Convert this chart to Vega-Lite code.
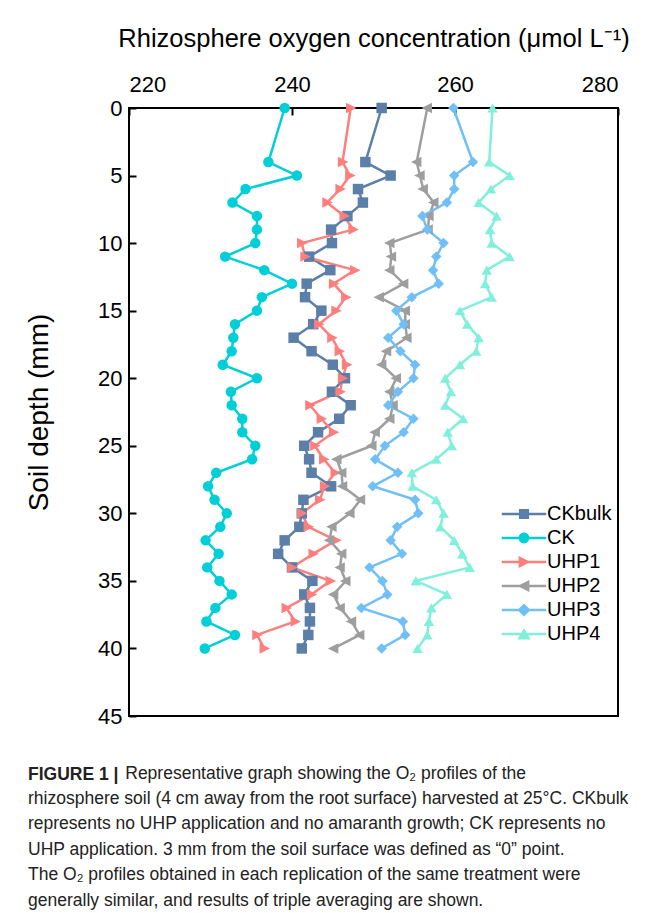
{
  "$schema": "https://vega.github.io/schema/vega-lite/v6.json",
  "autosize": {"type": "none"},
  "width": 489,
  "height": 608,
  "padding": {"left": 129, "top": 108, "right": 37, "bottom": 197},
  "background": "white",
  "config": {
    "view": {"stroke": "black", "strokeWidth": 2},
    "font": "Liberation Sans"
  },
  "title": {
    "text": "FIGURE 1 |",
    "subtitle": [
      "\u200b\u00a0\u00a0\u00a0\u00a0\u00a0\u00a0\u00a0\u00a0\u00a0\u00a0\u00a0\u00a0\u00a0\u00a0\u00a0\u00a0\u00a0\u00a0\u00a0\u00a0Representative graph showing the O\u2082 profiles of the",
      "rhizosphere soil (4 cm away from the root surface) harvested at 25\u00b0C. CKbulk",
      "represents no UHP application and no amaranth growth; CK represents no",
      "UHP application. 3 mm from the soil surface was defined as \u201c0\u201d point.",
      "The O\u2082 profiles obtained in each replication of the same treatment were",
      "generally similar, and results of triple averaging are shown."
    ],
    "orient": "bottom",
    "anchor": "start",
    "frame": "group",
    "dx": -101,
    "offset": 39,
    "font": "Liberation Sans",
    "fontSize": 17.5,
    "fontWeight": "bold",
    "color": "#222222",
    "subtitleFont": "Liberation Sans",
    "subtitleFontSize": 17.5,
    "subtitleColor": "#222222",
    "subtitleLineHeight": 25.4,
    "subtitlePadding": -19
  },
  "data": {
    "values": [
      {"series":"CK","depth":0,"o2":239.1},{"series":"CK","depth":4,"o2":237.1},{"series":"CK","depth":5,"o2":240.6},{"series":"CK","depth":6,"o2":234.3},{"series":"CK","depth":7,"o2":232.7},{"series":"CK","depth":8,"o2":235.7},{"series":"CK","depth":9,"o2":235.7},{"series":"CK","depth":10,"o2":235.5},{"series":"CK","depth":11,"o2":231.8},{"series":"CK","depth":12,"o2":236.6},{"series":"CK","depth":13,"o2":240.0},{"series":"CK","depth":14,"o2":236.3},{"series":"CK","depth":15,"o2":235.7},{"series":"CK","depth":16,"o2":233.0},{"series":"CK","depth":17,"o2":232.8},{"series":"CK","depth":18,"o2":232.6},{"series":"CK","depth":19,"o2":231.5},{"series":"CK","depth":20,"o2":235.7},{"series":"CK","depth":21,"o2":232.5},{"series":"CK","depth":22,"o2":232.6},{"series":"CK","depth":23,"o2":233.9},{"series":"CK","depth":24,"o2":233.9},{"series":"CK","depth":25,"o2":235.5},{"series":"CK","depth":26,"o2":235.1},{"series":"CK","depth":27,"o2":230.7},{"series":"CK","depth":28,"o2":229.7},{"series":"CK","depth":29,"o2":230.5},{"series":"CK","depth":30,"o2":232.0},{"series":"CK","depth":31,"o2":231.2},{"series":"CK","depth":32,"o2":229.4},{"series":"CK","depth":33,"o2":231.0},{"series":"CK","depth":34,"o2":229.6},{"series":"CK","depth":35,"o2":231.1},{"series":"CK","depth":36,"o2":232.6},{"series":"CK","depth":37,"o2":230.6},{"series":"CK","depth":38,"o2":229.5},{"series":"CK","depth":39,"o2":233.0},{"series":"CK","depth":40,"o2":229.3},
      {"series":"CKbulk","depth":0,"o2":251.0},{"series":"CKbulk","depth":4,"o2":249.0},{"series":"CKbulk","depth":5,"o2":252.1},{"series":"CKbulk","depth":6,"o2":248.1},{"series":"CKbulk","depth":7,"o2":248.7},{"series":"CKbulk","depth":8,"o2":246.8},{"series":"CKbulk","depth":9,"o2":244.8},{"series":"CKbulk","depth":10,"o2":244.9},{"series":"CKbulk","depth":11,"o2":242.1},{"series":"CKbulk","depth":12,"o2":244.7},{"series":"CKbulk","depth":13,"o2":241.8},{"series":"CKbulk","depth":14,"o2":241.6},{"series":"CKbulk","depth":15,"o2":243.6},{"series":"CKbulk","depth":16,"o2":242.6},{"series":"CKbulk","depth":17,"o2":240.2},{"series":"CKbulk","depth":18,"o2":242.4},{"series":"CKbulk","depth":19,"o2":245.0},{"series":"CKbulk","depth":20,"o2":246.5},{"series":"CKbulk","depth":21,"o2":244.9},{"series":"CKbulk","depth":22,"o2":247.2},{"series":"CKbulk","depth":23,"o2":245.8},{"series":"CKbulk","depth":24,"o2":243.2},{"series":"CKbulk","depth":25,"o2":241.5},{"series":"CKbulk","depth":26,"o2":242.1},{"series":"CKbulk","depth":27,"o2":242.4},{"series":"CKbulk","depth":28,"o2":244.8},{"series":"CKbulk","depth":29,"o2":241.4},{"series":"CKbulk","depth":30,"o2":241.2},{"series":"CKbulk","depth":31,"o2":240.9},{"series":"CKbulk","depth":32,"o2":239.1},{"series":"CKbulk","depth":33,"o2":238.3},{"series":"CKbulk","depth":34,"o2":240.0},{"series":"CKbulk","depth":35,"o2":242.5},{"series":"CKbulk","depth":36,"o2":241.5},{"series":"CKbulk","depth":37,"o2":242.2},{"series":"CKbulk","depth":38,"o2":242.2},{"series":"CKbulk","depth":39,"o2":242.0},{"series":"CKbulk","depth":40,"o2":241.2},
      {"series":"UHP1","depth":0,"o2":247.2},{"series":"UHP1","depth":4,"o2":246.2},{"series":"UHP1","depth":5,"o2":247.1},{"series":"UHP1","depth":6,"o2":245.9},{"series":"UHP1","depth":7,"o2":244.3},{"series":"UHP1","depth":8,"o2":246.4},{"series":"UHP1","depth":9,"o2":247.5},{"series":"UHP1","depth":10,"o2":241.2},{"series":"UHP1","depth":11,"o2":241.6},{"series":"UHP1","depth":12,"o2":247.7},{"series":"UHP1","depth":13,"o2":245.1},{"series":"UHP1","depth":14,"o2":246.6},{"series":"UHP1","depth":15,"o2":245.4},{"series":"UHP1","depth":16,"o2":243.3},{"series":"UHP1","depth":17,"o2":244.9},{"series":"UHP1","depth":18,"o2":245.8},{"series":"UHP1","depth":19,"o2":246.7},{"series":"UHP1","depth":20,"o2":246.2},{"series":"UHP1","depth":21,"o2":245.9},{"series":"UHP1","depth":22,"o2":242.2},{"series":"UHP1","depth":23,"o2":243.6},{"series":"UHP1","depth":24,"o2":245.1},{"series":"UHP1","depth":25,"o2":242.8},{"series":"UHP1","depth":26,"o2":243.9},{"series":"UHP1","depth":27,"o2":245.3},{"series":"UHP1","depth":28,"o2":244.0},{"series":"UHP1","depth":29,"o2":243.4},{"series":"UHP1","depth":30,"o2":241.2},{"series":"UHP1","depth":31,"o2":242.0},{"series":"UHP1","depth":32,"o2":245.4},{"series":"UHP1","depth":33,"o2":242.6},{"series":"UHP1","depth":34,"o2":240.0},{"series":"UHP1","depth":35,"o2":244.7},{"series":"UHP1","depth":36,"o2":242.4},{"series":"UHP1","depth":37,"o2":239.3},{"series":"UHP1","depth":38,"o2":240.4},{"series":"UHP1","depth":39,"o2":235.7},{"series":"UHP1","depth":40,"o2":236.6},
      {"series":"UHP2","depth":0,"o2":256.6},{"series":"UHP2","depth":4,"o2":255.3},{"series":"UHP2","depth":5,"o2":255.7},{"series":"UHP2","depth":6,"o2":256.1},{"series":"UHP2","depth":7,"o2":257.4},{"series":"UHP2","depth":8,"o2":256.8},{"series":"UHP2","depth":9,"o2":256.7},{"series":"UHP2","depth":10,"o2":252.0},{"series":"UHP2","depth":11,"o2":252.2},{"series":"UHP2","depth":12,"o2":252.0},{"series":"UHP2","depth":13,"o2":253.7},{"series":"UHP2","depth":14,"o2":250.7},{"series":"UHP2","depth":15,"o2":253.9},{"series":"UHP2","depth":16,"o2":253.9},{"series":"UHP2","depth":17,"o2":254.1},{"series":"UHP2","depth":18,"o2":251.6},{"series":"UHP2","depth":19,"o2":251.0},{"series":"UHP2","depth":20,"o2":252.8},{"series":"UHP2","depth":21,"o2":252.0},{"series":"UHP2","depth":22,"o2":252.4},{"series":"UHP2","depth":23,"o2":252.0},{"series":"UHP2","depth":24,"o2":250.2},{"series":"UHP2","depth":25,"o2":249.8},{"series":"UHP2","depth":26,"o2":245.5},{"series":"UHP2","depth":27,"o2":246.1},{"series":"UHP2","depth":28,"o2":246.2},{"series":"UHP2","depth":29,"o2":248.4},{"series":"UHP2","depth":30,"o2":247.1},{"series":"UHP2","depth":31,"o2":244.9},{"series":"UHP2","depth":32,"o2":244.6},{"series":"UHP2","depth":33,"o2":246.1},{"series":"UHP2","depth":34,"o2":245.9},{"series":"UHP2","depth":35,"o2":246.6},{"series":"UHP2","depth":36,"o2":245.1},{"series":"UHP2","depth":37,"o2":245.9},{"series":"UHP2","depth":38,"o2":247.3},{"series":"UHP2","depth":39,"o2":248.3},{"series":"UHP2","depth":40,"o2":245.1},
      {"series":"UHP3","depth":0,"o2":259.8},{"series":"UHP3","depth":4,"o2":262.2},{"series":"UHP3","depth":5,"o2":259.9},{"series":"UHP3","depth":6,"o2":259.9},{"series":"UHP3","depth":7,"o2":259.0},{"series":"UHP3","depth":8,"o2":256.0},{"series":"UHP3","depth":9,"o2":256.6},{"series":"UHP3","depth":10,"o2":258.6},{"series":"UHP3","depth":11,"o2":257.7},{"series":"UHP3","depth":12,"o2":257.3},{"series":"UHP3","depth":13,"o2":258.0},{"series":"UHP3","depth":14,"o2":254.7},{"series":"UHP3","depth":15,"o2":252.8},{"series":"UHP3","depth":16,"o2":253.7},{"series":"UHP3","depth":17,"o2":251.8},{"series":"UHP3","depth":18,"o2":253.3},{"series":"UHP3","depth":19,"o2":255.1},{"series":"UHP3","depth":20,"o2":254.9},{"series":"UHP3","depth":21,"o2":253.0},{"series":"UHP3","depth":22,"o2":251.8},{"series":"UHP3","depth":23,"o2":254.9},{"series":"UHP3","depth":24,"o2":253.7},{"series":"UHP3","depth":25,"o2":251.4},{"series":"UHP3","depth":26,"o2":250.2},{"series":"UHP3","depth":27,"o2":253.0},{"series":"UHP3","depth":28,"o2":249.9},{"series":"UHP3","depth":29,"o2":255.1},{"series":"UHP3","depth":30,"o2":255.5},{"series":"UHP3","depth":31,"o2":252.9},{"series":"UHP3","depth":32,"o2":252.1},{"series":"UHP3","depth":33,"o2":253.5},{"series":"UHP3","depth":34,"o2":249.5},{"series":"UHP3","depth":35,"o2":251.1},{"series":"UHP3","depth":36,"o2":251.7},{"series":"UHP3","depth":37,"o2":248.5},{"series":"UHP3","depth":38,"o2":253.6},{"series":"UHP3","depth":39,"o2":253.9},{"series":"UHP3","depth":40,"o2":251.0},
      {"series":"UHP4","depth":0,"o2":264.6},{"series":"UHP4","depth":4,"o2":264.2},{"series":"UHP4","depth":5,"o2":266.7},{"series":"UHP4","depth":6,"o2":264.4},{"series":"UHP4","depth":7,"o2":262.9},{"series":"UHP4","depth":8,"o2":265.1},{"series":"UHP4","depth":9,"o2":264.3},{"series":"UHP4","depth":10,"o2":264.5},{"series":"UHP4","depth":11,"o2":266.7},{"series":"UHP4","depth":12,"o2":263.9},{"series":"UHP4","depth":13,"o2":263.7},{"series":"UHP4","depth":14,"o2":264.5},{"series":"UHP4","depth":15,"o2":260.6},{"series":"UHP4","depth":16,"o2":261.5},{"series":"UHP4","depth":17,"o2":262.9},{"series":"UHP4","depth":18,"o2":262.6},{"series":"UHP4","depth":19,"o2":260.6},{"series":"UHP4","depth":20,"o2":258.8},{"series":"UHP4","depth":21,"o2":259.5},{"series":"UHP4","depth":22,"o2":258.8},{"series":"UHP4","depth":23,"o2":261.0},{"series":"UHP4","depth":24,"o2":259.1},{"series":"UHP4","depth":25,"o2":259.6},{"series":"UHP4","depth":26,"o2":257.7},{"series":"UHP4","depth":27,"o2":254.7},{"series":"UHP4","depth":28,"o2":254.8},{"series":"UHP4","depth":29,"o2":257.7},{"series":"UHP4","depth":30,"o2":258.6},{"series":"UHP4","depth":31,"o2":258.2},{"series":"UHP4","depth":32,"o2":259.9},{"series":"UHP4","depth":33,"o2":260.9},{"series":"UHP4","depth":34,"o2":261.8},{"series":"UHP4","depth":35,"o2":255.2},{"series":"UHP4","depth":36,"o2":259.0},{"series":"UHP4","depth":37,"o2":257.1},{"series":"UHP4","depth":38,"o2":256.8},{"series":"UHP4","depth":39,"o2":256.6},{"series":"UHP4","depth":40,"o2":255.4}
    ]
  },
  "encoding": {
    "x": {
      "field": "o2", "type": "quantitative",
      "scale": {"domain": [220, 280], "nice": false, "zero": false},
      "axis": {
        "orient": "top", "values": [220, 240, 260, 280], "grid": false, "domain": false,
        "tickSize": -7, "tickWidth": 2, "tickColor": "black",
        "labelFontSize": 22, "labelColor": "black", "labelPadding": 19, "labelFont": "Liberation Sans",
        "title": "Rhizosphere oxygen concentration (\u03bcmol L\u207b\u00b9)",
        "titleFontSize": 25.5, "titleFontWeight": "normal", "titleColor": "black", "titlePadding": 22, "titleFont": "Liberation Sans"
      }
    },
    "y": {
      "field": "depth", "type": "quantitative",
      "scale": {"domain": [0, 45], "reverse": true, "nice": false, "zero": false},
      "axis": {
        "values": [0, 5, 10, 15, 20, 25, 30, 35, 40, 45], "grid": false, "domain": false,
        "tickSize": -7, "tickWidth": 2, "tickColor": "black",
        "labelFontSize": 22, "labelColor": "black", "labelPadding": 14, "labelFont": "Liberation Sans",
        "title": "Soil depth (mm)",
        "titleFontSize": 28, "titleFontWeight": "normal", "titleColor": "black", "titlePadding": 44, "titleFont": "Liberation Sans"
      }
    },
    "order": {"field": "depth", "type": "quantitative"},
    "color": {
      "field": "series", "type": "nominal",
      "scale": {
        "domain": ["CKbulk", "CK", "UHP1", "UHP2", "UHP3", "UHP4"],
        "range": ["#5b7fa8", "#00cfd8", "#fd7f7d", "#9e9e9e", "#70bff7", "#80f0da"]
      },
      "legend": {
        "title": null,
        "orient": "none",
        "legendX": 385,
        "legendY": 396,
        "symbolSize": 144,
        "symbolStrokeWidth": 0,
        "labelOffset": 13,
        "labelFontSize": 20,
        "labelFont": "Liberation Sans",
        "labelColor": "black",
        "rowPadding": 4,
        "encode": {
          "symbols": {
            "update": {
              "shape": {"signal": "datum.value === 'CKbulk' ? 'M-3.7,-0.2 L3.7,-0.2 L3.7,0.2 L-3.7,0.2 Z M-0.85,-0.85 L0.85,-0.85 L0.85,0.85 L-0.85,0.85 Z' : datum.value === 'CK' ? 'M-3.7,-0.2 L3.7,-0.2 L3.7,0.2 L-3.7,0.2 Z M-0.9,0 A0.9,0.9 0 1,1 0.9,0 A0.9,0.9 0 1,1 -0.9,0 Z' : datum.value === 'UHP1' ? 'M-3.7,-0.2 L3.7,-0.2 L3.7,0.2 L-3.7,0.2 Z M-0.9,-1 L1.1,0 L-0.9,1 Z' : datum.value === 'UHP2' ? 'M-3.7,-0.2 L3.7,-0.2 L3.7,0.2 L-3.7,0.2 Z M0.9,1 L-1.1,0 L0.9,-1 Z' : datum.value === 'UHP3' ? 'M-3.7,-0.2 L3.7,-0.2 L3.7,0.2 L-3.7,0.2 Z M0,-1.1 L1.1,0 L0,1.1 L-1.1,0 Z' : 'M-3.7,-0.2 L3.7,-0.2 L3.7,0.2 L-3.7,0.2 Z M0,-1 L1.1,0.9 L-1.1,0.9 Z'"},
              "fill": {"scale": "color", "field": "value"},
              "fillOpacity": {"value": 1},
              "stroke": {"value": "transparent"},
              "strokeWidth": {"value": 0}
            }
          }
        }
      }
    }
  },
  "layer": [
    {"mark": {"type": "line", "strokeWidth": 2.5}},
    {
      "mark": {"type": "point", "filled": true, "size": 110, "opacity": 1},
      "encoding": {
        "shape": {
          "field": "series", "type": "nominal",
          "scale": {
            "range": ["circle", "square", "M-0.9,-1 L1.1,0 L-0.9,1 Z", "M0.9,1 L-1.1,0 L0.9,-1 Z", "diamond", "triangle-up"]
          },
          "legend": null
        }
      }
    }
  ]
}
